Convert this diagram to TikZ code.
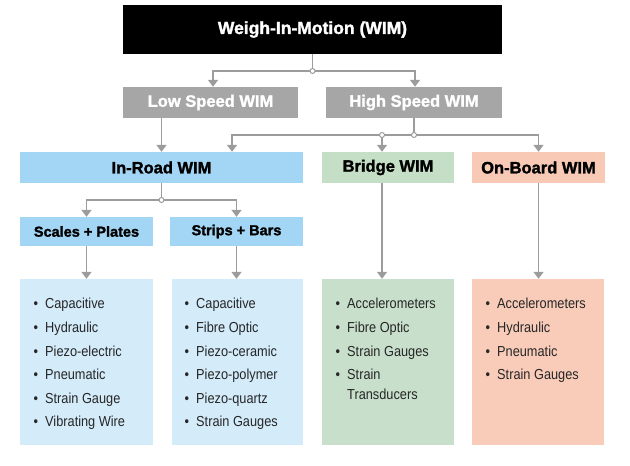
\documentclass[tikz,border=0pt]{standalone}
\usepackage{fontspec}
\setmainfont{Liberation Sans}
\newfontfamily\hdrfont[FakeBold=1.6]{Liberation Sans Bold}
\newfontfamily\itemfont[FakeStretch=0.88]{Liberation Sans}
\usetikzlibrary{arrows.meta}
\definecolor{linegray}{HTML}{9C9C9C}
\definecolor{boxgray}{HTML}{A6A6A6}
\definecolor{bluehead}{HTML}{A3D6F4}
\definecolor{bluelist}{HTML}{D4EBFA}
\definecolor{greenhead}{HTML}{C5DFC7}
\definecolor{greenlist}{HTML}{C8E0CB}
\definecolor{salmonhead}{HTML}{F8CAB6}
\definecolor{salmonlist}{HTML}{F9CCBA}
\tikzset{
  box/.style={rectangle, inner sep=0pt, draw=none},
  hdr/.style={box, font=\hdrfont\fontsize{16.5bp}{19bp}\selectfont},
  subhdr/.style={box, fill=bluehead, font=\hdrfont\fontsize{14.5bp}{17bp}\selectfont,
     minimum width=133bp, minimum height=29bp},
  listbox/.style={box, minimum height=166bp},
  item/.style={anchor=base west, inner sep=0pt, font=\itemfont\fontsize{14.5bp}{17bp}\selectfont, text=black!85},
  conn/.style={draw=linegray, line width=1.6bp},
  arr/.style={conn, -{Triangle[width=10bp,length=7bp]}},
  junc/.style={circle, draw=linegray, fill=white, line width=1bp, inner sep=0pt, minimum size=5bp},
}
\newcommand{\bul}{\llap{\textbullet\hspace{7bp}}}
\begin{document}
\begin{tikzpicture}[x=1bp, y=-1bp]
\useasboundingbox (0,0) rectangle (630,466);
% top
\node[hdr, fill=black, text=white, minimum width=379bp, minimum height=49bp,
      font=\hdrfont\fontsize{17.5bp}{20bp}\selectfont] (top) at (312.5,29.5) {Weigh-In-Motion (WIM)};
\node[hdr, fill=boxgray, text=white, minimum width=175bp, minimum height=31bp] (low) at (210.5,102.5) {Low Speed WIM};
\node[hdr, fill=boxgray, text=white, minimum width=176bp, minimum height=31bp] (high) at (414,102.5) {High Speed WIM};
\node[hdr, fill=bluehead, minimum width=283bp, minimum height=31bp] (inroad) at (161.5,167.5) {In-Road WIM};
\node[hdr, fill=greenhead, minimum width=132bp, minimum height=31bp] (bridge) at (388,167.5) {Bridge WIM};
\node[hdr, fill=salmonhead, minimum width=133bp, minimum height=31bp] (onboard) at (538.5,167.5) {On-Board WIM};
\node[subhdr] (scales) at (86.5,231.5) {Scales + Plates};
\node[subhdr] (strips) at (236.5,231.5) {Strips + Bars};
% list boxes
\node[listbox, fill=bluelist, minimum width=133bp] (l1) at (86.5,362) {};
\node[listbox, fill=bluelist, minimum width=131bp] (l2) at (237.5,362) {};
\node[listbox, fill=greenlist, minimum width=132bp] (l3) at (388,362) {};
\node[listbox, fill=salmonlist, minimum width=132bp] (l4) at (538,362) {};
% items
\foreach \t [count=\i] in {Capacitive, Hydraulic, Piezo-electric, Pneumatic, Strain Gauge, Vibrating Wire}
  \node[item] (a\i) at (45,{309+23.5*(\i-1)}) {\bul\t};
\foreach \t [count=\i] in {Capacitive, Fibre Optic, Piezo-ceramic, Piezo-polymer, Piezo-quartz, Strain Gauges}
  \node[item] (b\i) at (196,{309+23.5*(\i-1)}) {\bul\t};
\foreach \t [count=\i] in {Accelerometers, Fibre Optic, Strain Gauges, Strain}
  \node[item] (c\i) at (347,{309+23.5*(\i-1)}) {\bul\t};
\node[item] (c5) at (347,399) {Transducers};
\foreach \t [count=\i] in {Accelerometers, Hydraulic, Pneumatic, Strain Gauges}
  \node[item] (d\i) at (497,{309+23.5*(\i-1)}) {\bul\t};
% connectors
\coordinate (j1) at (312.5,71);
\draw[conn] (top.south) -- (j1);
\draw[arr] (j1) -| ([xshift=2.5bp]low.north);
\draw[arr] (j1) -| ([xshift=1bp]high.north);
\node[junc] (j1c) at (j1) {};
\draw[arr] (inroad.north |- low.south) -- (inroad.north);
\coordinate (j2) at (414,135);
\coordinate (j3) at (382,135);
\draw[conn] (high.south) -- (j2);
\draw[arr] (j2) -| ([xshift=70.5bp]inroad.north);
\draw[arr] (j2) -| (onboard.north);
\draw[arr] (j3) -- (j3 |- bridge.north);
\node[junc] (j2c) at (j2) {};
\node[junc] (j3c) at (j3) {};
\coordinate (j4) at (161.5,200);
\draw[conn] (inroad.south) -- (j4);
\draw[arr] (j4) -| (scales.north);
\draw[arr] (j4) -| (strips.north);
\node[junc] (j4c) at (j4) {};
\draw[arr] (scales.south) -- (scales.south |- l1.north);
\draw[arr] (strips.south) -- (strips.south |- l2.north);
\draw[arr] ([xshift=-6bp]bridge.south) -- ([xshift=-6bp]bridge.south |- l3.north);
\draw[arr] (onboard.south) -- (onboard.south |- l4.north);
\end{tikzpicture}
\end{document}
